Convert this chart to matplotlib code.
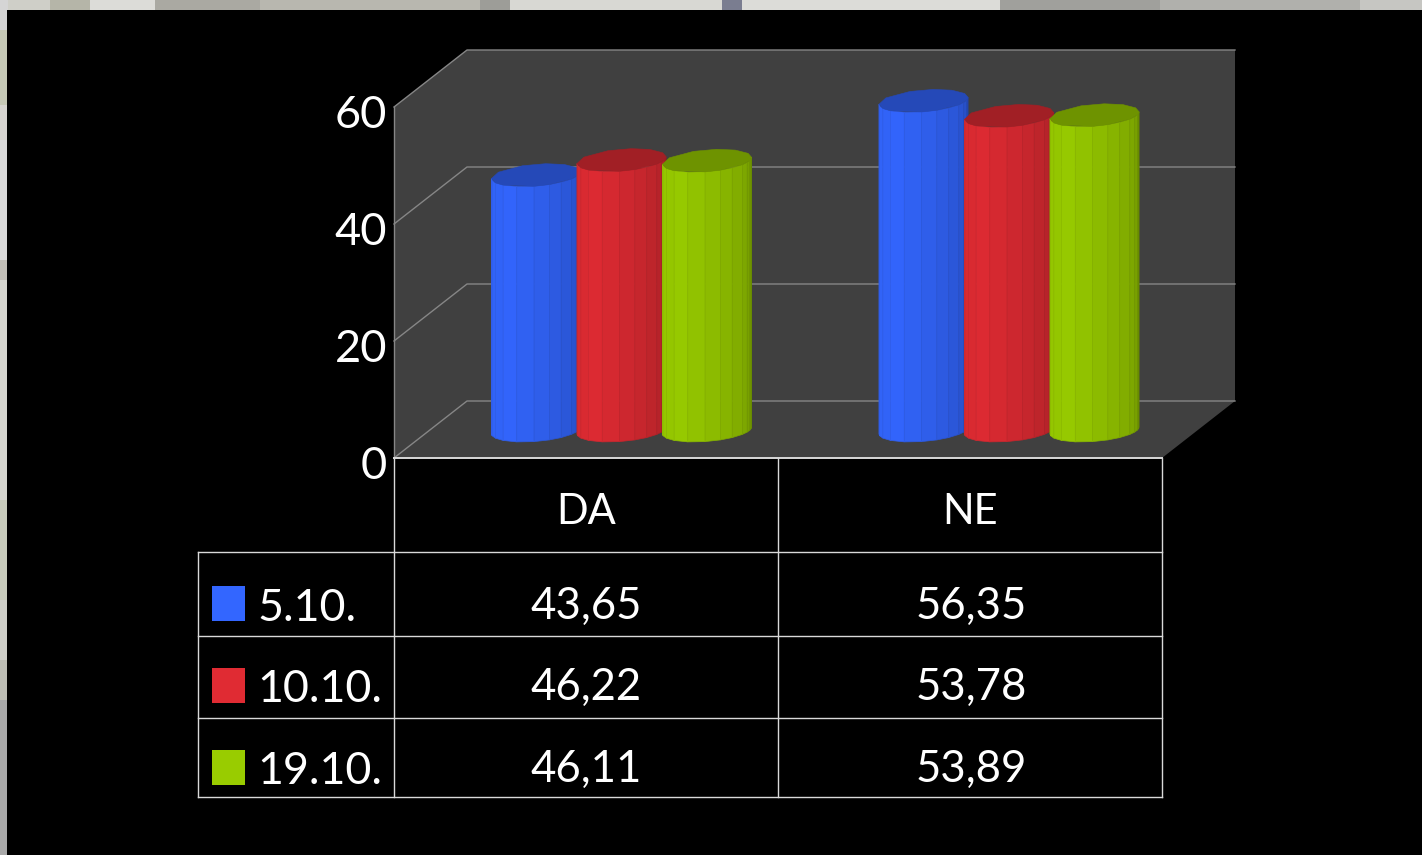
import numpy as np
import matplotlib
matplotlib.use("Agg")
import matplotlib.pyplot as plt
from matplotlib.colors import to_rgb
from matplotlib.patches import Rectangle
from matplotlib.transforms import ScaledTranslation

categories = ["DA", "NE"]
series_names = ["5.10.", "10.10.", "19.10."]
series_values = {
    "5.10.": [43.65, 56.35],
    "10.10.": [46.22, 53.78],
    "19.10.": [46.11, 53.89],
}
series_colors = ["#3366FF", "#E02B33", "#99CC00"]
y_ticks = [0, 20, 40, 60]

W, H = 1422, 855
FONT = "Lato"
plt.rcParams["font.family"] = [FONT, "DejaVu Sans"]
fig = plt.figure(figsize=(W / 100, H / 100), dpi=100, facecolor="#d6d6d0")


def rect(l, t, r, b):
    return [l / W, 1 - b / H, (r - l) / W, (b - t) / H]


# overlay in pixel space for background, table frame and table text
bg = fig.add_axes([0, 0, 1, 1], zorder=0)
bg.set_xlim(0, W)
bg.set_ylim(H, 0)
bg.axis("off")
top_band = [(0, 50, "#cfcfc8"), (50, 90, "#b5b5a8"), (90, 155, "#dcdcd8"), (155, 260, "#aaa9a2"),
            (260, 480, "#b8b7af"), (480, 510, "#9d9d98"), (510, 722, "#d8d8d3"), (722, 742, "#7a7d90"),
            (742, 1000, "#dcdcd8"), (1000, 1160, "#a0a09c"), (1160, 1360, "#b0b0ac"), (1360, 1422, "#c6c6c2")]
for a, b, c in top_band:
    bg.add_patch(Rectangle((a, 0), b - a, 11, color=c, lw=0))
left_band = [(0, 30, "#d5d5d5"), (30, 105, "#c6c8b6"), (105, 140, "#d6d4d0"), (140, 260, "#d8d8d8"),
             (260, 280, "#c2bfb8"), (280, 500, "#d6d6d0"), (500, 600, "#c8cbbc"), (600, 660, "#cfcfc8"),
             (660, 700, "#bdbdb4"), (700, 855, "#a9a9a9")]
for a, b, c in left_band:
    bg.add_patch(Rectangle((0, a), 7.5, b - a, color=c, lw=0))
bg.add_patch(Rectangle((7, 10), W, H, color="black", lw=0))

# chart axes: front plane of the 3D box
ax = fig.add_axes(rect(394, 107, 1162, 458), zorder=1)
ax.patch.set_alpha(0)
ax.set_xlim(0, len(categories))
ax.set_ylim(0, 60)
for s in ax.spines.values():
    s.set_visible(False)

px_x = 384.0           # pixels per category
px_y = 351.0 / 60      # pixels per value unit
DX = 73 / px_x         # box depth in data units
DY = 57 / px_y
GRID = "#868686"
WALL = "#404040"

ax.fill([0, 0, DX, 2 + DX, 2 + DX, 2], [0, 60, 60 + DY, 60 + DY, DY, 0],
        color=WALL, lw=0, clip_on=False, zorder=1)
ax.plot([0, 0], [0, 60], color=GRID, lw=1, clip_on=False, zorder=2)
for v in y_ticks:
    ax.plot([0, DX, 2 + DX], [v, v + DY, v + DY], color=GRID, lw=1,
            clip_on=False, zorder=2)

ax.set_yticks(y_ticks)
ax.set_yticklabels([str(v) for v in y_ticks], fontsize=32.5, color="white", va="center")
ax.tick_params(axis="y", length=0, pad=5)
for lab in ax.get_yticklabels():
    lab.set_transform(lab.get_transform() + ScaledTranslation(0, -8 / 100, fig.dpi_scale_trans))
ax.set_xticks([i + 0.5 for i in range(len(categories))])
ax.set_xticklabels(categories, fontsize=30, color="white")
ax.tick_params(axis="x", length=0, pad=25)

# cylinders
RX = 42.5 / px_x
RZ = 11.5 / px_y
SH = 13.4 / px_x
STEP = 85.5 / px_x
CDX = 35.5 / px_x
CDY = 27.5 / px_y
GROUP_EXTRA = 3.5 / px_x
angles_front = np.radians([197.5, 207, 222, 240, 262, 285, 305, 322, 340, 352, 362, 370, 377.5])
angles_all = np.radians([17.5, 40, 68, 95, 125, 165, 197.5, 222, 240, 285, 305, 340, 362])


def ring(cx, cy, th):
    return cx + RX * np.cos(th) + SH * np.sin(th), cy + RZ * np.sin(th)


def shade(col, f):
    return tuple(c * f for c in to_rgb(col))


z = 5
for g in range(len(categories)):
    for k, name in enumerate(series_names):
        val = series_values[name][g]
        cx = g + 0.5 + CDX + g * GROUP_EXTRA + (k - 1) * STEP
        cy = CDY
        col = series_colors[k]
        xs, ys = ring(cx, cy, angles_front)
        n = len(xs) - 1
        for i in range(n):
            t = (i + 0.5) / n
            f = 1.0 - 0.30 * (t - 0.25) / 0.75 if t > 0.25 else 0.97
            c = shade(col, f)
            ax.fill([xs[i], xs[i + 1], xs[i + 1], xs[i]],
                    [ys[i], ys[i + 1], ys[i + 1] + val, ys[i] + val],
                    facecolor=c, edgecolor=shade(col, f * 0.95), lw=0.5, clip_on=False, zorder=z)
        tx, ty = ring(cx, cy + val, angles_all)
        ax.fill(tx, ty, color=shade(col, 0.72), lw=0.4, clip_on=False, zorder=z + 1)
        z += 2

# table frame
LINE = "#d9d9d9"
ov = fig.add_axes([0, 0, 1, 1], zorder=2)
ov.set_xlim(0, W)
ov.set_ylim(H, 0)
ov.axis("off")
ov.patch.set_alpha(0)
col_x = [394, 778, 1162]
row_y = [552, 636, 718, 797]
for x in col_x:
    ov.plot([x, x], [458, 797], color=LINE, lw=1)
ov.plot([198, 198], [552, 797], color=LINE, lw=1)
ov.plot([394, 1162], [458, 458], color=LINE, lw=1.4)
for y in row_y:
    ov.plot([198, 1162], [y, y], color=LINE, lw=1)

baselines = [619, 700, 782]
swatch_tops = [586, 668, 750]
cat_x = [586, 971]
for r, name in enumerate(series_names):
    ov.add_patch(Rectangle((212, swatch_tops[r]), 33, 35, color=series_colors[r], lw=0))
    ov.text(257, baselines[r] + 2, name, fontsize=32.2, color="white", va="baseline", ha="left")
    for c, x in enumerate(cat_x):
        ov.text(x, baselines[r], f"{series_values[name][c]:.2f}".replace(".", ","),
                fontsize=31.5, color="white", va="baseline", ha="center")

fig.savefig("out.png", dpi=100, facecolor=fig.get_facecolor())
